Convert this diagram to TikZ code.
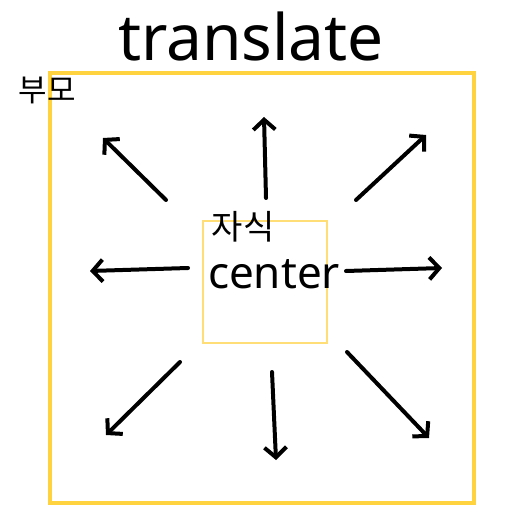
\documentclass[tikz,border=0pt]{standalone}
\usepackage{fontspec}
\setmainfont{Noto Sans}
\newfontfamily\krfont{Noto Sans CJK KR}
\usetikzlibrary{arrows.meta}

\definecolor{boxyellow}{RGB}{255,210,64}
\definecolor{lightyellow}{RGB}{255,222,120}

\tikzset{
  parentbox/.style={draw=boxyellow, line width=4.5pt, minimum width=424pt, minimum height=430pt, inner sep=0pt},
  childbox/.style={draw=lightyellow, line width=1.3pt, minimum width=124pt, minimum height=122pt, inner sep=0pt},
  move/.style={line width=4pt, line cap=round, line join=round, -{Straight Barb[length=10pt,width=22pt,line width=4pt]}},
}

\begin{document}
\begin{tikzpicture}[x=1pt,y=-1pt]
\useasboundingbox (0,0) rectangle (517,518);

%title
\node (title) at (251,37) {\fontsize{64}{64}\selectfont translate};

%parent and child boxes
\node[parentbox] (parent) at (262,288) {};
\node (parentlbl) at (47,90) {\krfont\fontsize{31}{31}\selectfont 부모};
\node[childbox] (child) at (265,282) {};
\node (childlbl) at (243,227) {\krfont\fontsize{34}{34}\selectfont 자식};
\node (centerlbl) at (274,274) {\fontsize{44}{44}\selectfont center};

%arrow ends
\coordinate (nwS) at (166,200); \coordinate (nwE) at (103,138);
\coordinate (nS)  at (266,198); \coordinate (nE)  at (264,117);
\coordinate (neS) at (356,200); \coordinate (neE) at (426,135);
\coordinate (wS)  at (188,268); \coordinate (wE)  at (90,271);
\coordinate (eS)  at (346,271); \coordinate (eE)  at (442,268);
\coordinate (swS) at (180,362); \coordinate (swE) at (106,435);
\coordinate (sS)  at (272,372); \coordinate (sE)  at (276,460);
\coordinate (seS) at (347,352); \coordinate (seE) at (429,438);

%translate arrows
\foreach \d in {nw,n,ne,w,e,sw,s,se}
  \draw[move] (\d S) -- (\d E);

\end{tikzpicture}
\end{document}
